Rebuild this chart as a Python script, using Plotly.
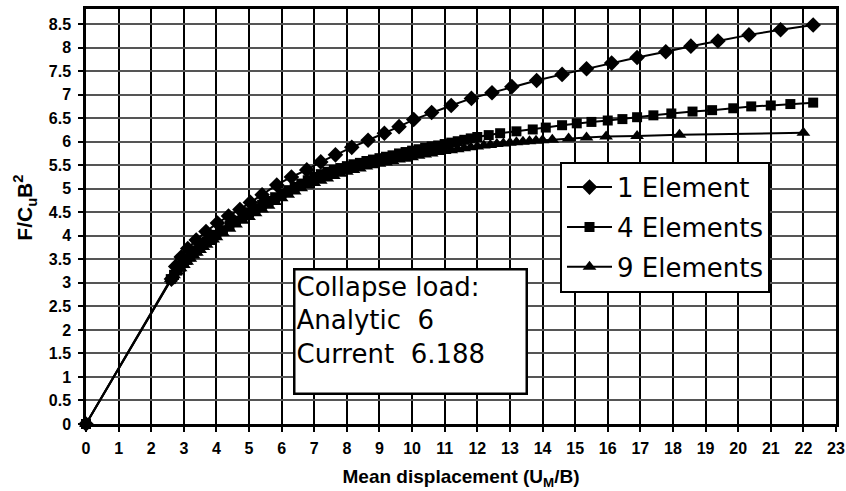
import plotly.graph_objects as go

# ---------------- data ----------------
x_1el = [0, 2.62, 2.75, 2.92, 3.12, 3.38, 3.68, 4.03, 4.37, 4.72, 5.04, 5.4, 5.85, 6.3,
         6.77, 7.2, 7.65, 8.15, 8.65, 9.15, 9.6, 10.05, 10.6, 11.2, 11.82, 12.45, 13.06,
         13.82, 14.6, 15.35, 16.12, 16.9, 17.78, 18.55, 19.38, 20.33, 21.3, 22.3]
y_1el = [0, 3.08, 3.35, 3.55, 3.73, 3.91, 4.09, 4.27, 4.42, 4.56, 4.71, 4.87, 5.08, 5.25,
         5.40, 5.57, 5.72, 5.88, 6.03, 6.18, 6.32, 6.47, 6.62, 6.77, 6.92, 7.04, 7.17,
         7.30, 7.43, 7.55, 7.67, 7.79, 7.91, 8.03, 8.14, 8.27, 8.38, 8.48]

x_4el = [0, 2.6, 2.7, 2.8, 2.9, 3.0, 3.1, 3.2, 3.3, 3.4, 3.5, 3.6, 3.7, 3.8, 3.9, 4.0,
         4.2, 4.4, 4.6, 4.8, 5.0, 5.2, 5.4, 5.6, 5.8, 6.0, 6.2, 6.4, 6.6, 6.8, 7.0,
         7.2, 7.4, 7.6, 7.8, 8.0, 8.2, 8.4, 8.6, 8.8, 9.0, 9.2, 9.4, 9.6, 9.8, 10.0,
         10.2, 10.4, 10.6, 10.8, 11.0, 11.2, 11.4, 11.6, 11.8,
         12.0, 12.35, 12.7, 13.2, 13.7, 14.1, 14.6, 15.05, 15.5, 16.0, 16.45, 16.9,
         17.4, 17.95, 18.6, 19.2, 19.85, 20.4, 21.0, 21.6, 22.3]
y_4el = [0, 3.08, 3.17, 3.26, 3.34, 3.42, 3.49, 3.56, 3.63, 3.69, 3.75, 3.81, 3.87, 3.92, 3.97, 4.02,
         4.12, 4.22, 4.32, 4.41, 4.50, 4.58, 4.66, 4.74, 4.82, 4.90, 4.97, 5.04, 5.11, 5.18, 5.25,
         5.31, 5.36, 5.40, 5.44, 5.48, 5.52, 5.55, 5.59, 5.62, 5.65, 5.68, 5.71, 5.75, 5.78, 5.81,
         5.84, 5.87, 5.90, 5.92, 5.95, 5.98, 6.01, 6.04, 6.07,
         6.10, 6.14, 6.18, 6.22, 6.26, 6.30, 6.35, 6.39, 6.42, 6.45, 6.48, 6.52,
         6.56, 6.60, 6.64, 6.67, 6.71, 6.75, 6.77, 6.80, 6.83]

x_9el = [0, 2.6, 2.7, 2.8, 2.9, 3.0, 3.1, 3.2, 3.3, 3.4, 3.5, 3.6, 3.7, 3.8, 3.9, 4.0,
         4.2, 4.4, 4.6, 4.8, 5.0, 5.2, 5.4, 5.6, 5.8, 6.0, 6.2, 6.4, 6.6, 6.8, 7.0,
         7.2, 7.4, 7.6, 7.8, 8.0, 8.2, 8.4, 8.6, 8.8, 9.0, 9.2, 9.4, 9.6, 9.8, 10.0,
         10.2, 10.4, 10.6, 10.8, 11.0, 11.2, 11.4, 11.6, 11.8, 12.0, 12.2, 12.4, 12.6,
         12.8, 13.0, 13.2, 13.4, 13.6, 13.8, 14.0,
         14.3, 14.8, 15.35, 15.95, 16.9, 18.2, 22.0]
y_9el = [0, 3.08, 3.16, 3.24, 3.31, 3.38, 3.45, 3.51, 3.58, 3.64, 3.70, 3.76, 3.81, 3.87, 3.92, 3.97,
         4.06, 4.15, 4.24, 4.32, 4.40, 4.48, 4.56, 4.64, 4.72, 4.80, 4.87, 4.94, 5.01, 5.07, 5.12,
         5.17, 5.22, 5.27, 5.32, 5.36, 5.40, 5.43, 5.47, 5.50, 5.53, 5.56, 5.59, 5.62, 5.64, 5.67,
         5.70, 5.73, 5.75, 5.78, 5.80, 5.82, 5.84, 5.86, 5.88, 5.90, 5.92, 5.93, 5.95,
         5.96, 5.98, 5.99, 6.00, 6.01, 6.02, 6.03,
         6.04, 6.07, 6.09, 6.11, 6.12, 6.15, 6.188]

series_names = ["1 Element", "4 Elements", "9 Elements"]
x_ticks = list(range(0, 24))
y_ticks = [i * 0.5 for i in range(0, 18)]
y_tick_labels = ["0" if v == 0 else ("%g" % v) for v in y_ticks]
note_lines = ["Collapse load:", "Analytic  6", "Current  6.188"]

# ---------------- figure ----------------
fig = go.Figure()
styles = [("diamond", 12), ("square", 10), ("triangle-up", 12)]
for i, (name, xs, ys, (sym, sz)) in enumerate(zip(series_names, [x_1el, x_4el, x_9el],
                                                  [y_1el, y_4el, y_9el], styles)):
    fig.add_trace(go.Scatter(
        x=xs, y=ys, name=name, mode="lines+markers", legendgroup="g%d" % i,
        line=dict(color="black", width=2),
        marker=dict(symbol=sym, size=sz, color="black"),
        cliponaxis=False,
    ))

fig.add_annotation(
    xref="paper", yref="paper", x=0.2756, y=0.376, xanchor="left", yanchor="top",
    text="<br>".join(note_lines), align="left", valign="top",
    showarrow=False, width=228, height=120,
    font=dict(family="DejaVu Sans", size=26, color="black"),
    bordercolor="black", borderwidth=2.5, borderpad=1, bgcolor="white",
)

fig.add_annotation(
    xref="paper", yref="paper", x=-0.082, y=0.52, xanchor="center", yanchor="middle",
    text="<b>F/C<sub>u</sub>B<sup>2</sup></b>", textangle=-90, showarrow=False,
    font=dict(family="Liberation Sans, Arial", size=21, color="black"),
)

fig.update_layout(
    width=846, height=491,
    margin=dict(l=86, r=10, t=9, b=67, autoexpand=False),
    paper_bgcolor="white", plot_bgcolor="white",
    showlegend=True,
    legend=dict(
        x=0.632, y=0.632, xanchor="left", yanchor="top",
        bgcolor="white", bordercolor="black", borderwidth=2,
        font=dict(family="DejaVu Sans", size=26, color="black"),
        itemwidth=45, tracegroupgap=3,
    ),
    xaxis=dict(
        range=[0, 23], tickmode="array", tickvals=x_ticks,
        ticktext=[str(v) for v in x_ticks],
        showgrid=True, gridcolor="black", gridwidth=1.5,
        ticks="outside", ticklen=5, tickcolor="black", tickwidth=1.5,
        ticklabelstandoff=3, automargin=False,
        showline=True, linecolor="black", linewidth=2.5, mirror=True,
        zeroline=False,
        tickfont=dict(family="Liberation Sans, Arial", size=16, color="black", weight="bold"),
        title=dict(text="<b>Mean displacement (U<sub>M</sub>/B)</b>",
                   font=dict(family="Liberation Sans, Arial", size=19, color="black"),
                   standoff=14),
    ),
    yaxis=dict(
        range=[0, 8.82], tickmode="array", tickvals=y_ticks, ticktext=y_tick_labels,
        showgrid=True, gridcolor="#555555", gridwidth=1.5,
        ticks="outside", ticklen=5, tickcolor="black", tickwidth=1.5,
        ticklabelstandoff=4, automargin=False,
        showline=True, linecolor="black", linewidth=2.5, mirror=True,
        zeroline=False,
        tickfont=dict(family="Liberation Sans, Arial", size=16, color="black", weight="bold"),
    ),
)

fig.write_html("out.html")
